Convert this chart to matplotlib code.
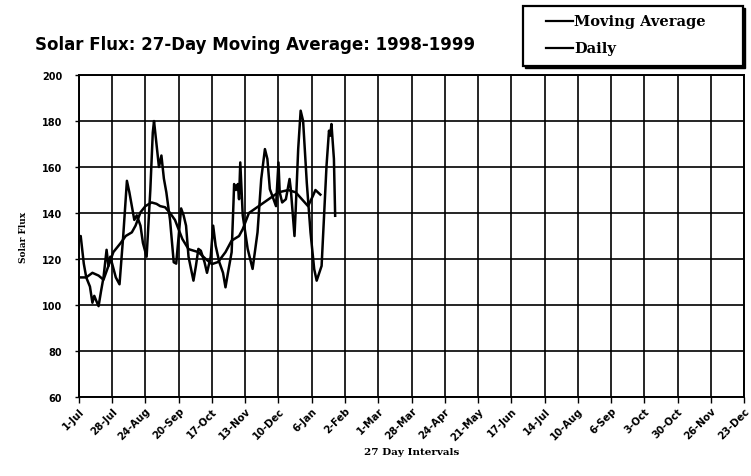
import matplotlib
matplotlib.use("Agg")
import matplotlib.pyplot as plt
from matplotlib.lines import Line2D
from matplotlib.patches import Rectangle

# ---- data ----
tick_labels = ["1-Jul", "28-Jul", "24-Aug", "20-Sep", "17-Oct", "13-Nov", "10-Dec",
               "6-Jan", "2-Feb", "1-Mar", "28-Mar", "24-Apr", "21-May", "17-Jun",
               "14-Jul", "10-Aug", "6-Sep", "3-Oct", "30-Oct", "26-Nov", "23-Dec"]
interval_days = 27

daily_day = [0, 1.5, 4, 6, 9, 11, 12.5, 14, 16, 18, 20, 22.5, 24, 25.5, 28, 30, 33,
             36, 39, 41, 45, 47, 50, 52, 55, 58, 60, 61, 63, 65, 67, 69, 71, 74, 77,
             79, 83, 85, 87, 89, 93, 95, 97, 99, 102, 104, 107, 109, 111, 114, 117,
             119, 121, 124, 125.5, 126, 127.5, 129, 130, 131, 133, 137, 141, 145, 148,
             151, 153, 155, 158, 160, 162, 163, 165, 168, 171, 172, 175, 176, 178, 180,
             182, 185, 188, 191, 193, 197, 201, 203, 204, 205, 207, 208]
daily_flux = [128, 130, 118, 112, 108, 101, 104, 102, 99.5, 106, 112, 124, 117, 121,
              116, 112, 109, 130, 154, 149, 137, 139, 134.5, 127, 121, 150, 175, 180,
              170, 160, 165, 155, 149, 137, 118.6, 118, 142, 139, 134.5, 121, 110.6, 117,
              124.4, 123.6, 118.6, 114, 121, 134.5, 125.8, 118.6, 114, 107.7, 114, 123,
              144.6, 152.6, 150, 152.6, 146, 162, 139, 124.4, 115.7, 131.6, 154.8, 167.8,
              163.5, 150.4, 146, 143, 162, 149, 144.6, 146, 154.8, 150.4, 130, 141.7,
              167.8, 184.5, 180, 153, 131.6, 115.6, 110.6, 117, 160.6, 175.8, 173.6,
              178.7, 163.5, 138.8]

ma_day = [0, 6, 11, 16, 20, 24, 28, 34, 38, 43, 46, 50, 54, 59, 63, 66, 70, 74, 78,
          84, 89, 97, 103, 108, 113, 119, 124, 130, 133, 138, 146, 154, 162, 170, 176,
          181, 186, 190, 192, 196]
ma_flux = [112, 112, 114, 112.8, 111, 117, 123, 127, 130, 131.6, 134.5, 140.3, 143,
           144.6, 144, 143, 142.5, 140, 137, 128.7, 124.3, 123, 120, 117.8, 118.7, 123,
           128, 130, 133, 140, 143, 146, 149, 150, 149, 146, 143, 147.5, 150, 148]

yticks = [60, 80, 100, 120, 140, 160, 180, 200]
series_names = ["Moving Average", "Daily"]

# ---- figure ----
W, H = 751, 477
fig = plt.figure(figsize=(W / 100, H / 100), dpi=100)
ax = fig.add_axes([0.105, 0.1656, 0.886, 0.675])

ax.plot(ma_day, ma_flux, color="black", lw=1.8, label=series_names[0], zorder=3)
ax.plot(daily_day, daily_flux, color="black", lw=1.8, label=series_names[1], zorder=3)

xt = [i * interval_days for i in range(len(tick_labels))]
ax.set_xticks(xt)
ax.set_xticklabels(tick_labels, rotation=45, ha="right", rotation_mode="anchor",
                   fontsize=7.3, fontweight="bold")
ax.set_xlim(0, xt[-1])
ax.set_yticks(yticks)
ax.set_yticklabels([str(v) for v in yticks], fontsize=7, fontweight="bold")
ax.set_ylim(60, 200)
ax.grid(True, color="black", lw=1.2)
ax.set_axisbelow(True)
for s in ax.spines.values():
    s.set_color("black")
    s.set_linewidth(1.4)
ax.tick_params(axis="x", length=4, width=1, color="black", pad=2)
ax.tick_params(axis="y", length=3, width=1, color="black", pad=9)

ax.set_xlabel("27 Day Intervals", family="DejaVu Serif", fontweight="bold",
              fontsize=7.5, labelpad=4)
ax.set_ylabel("Solar Flux", family="DejaVu Serif", fontweight="bold",
              fontsize=6.5, labelpad=10)

fig.text(0.047, 0.906, "Solar Flux: 27-Day Moving Average: 1998-1999",
         fontsize=12, fontweight="bold", va="center", ha="left")

# ---- legend box (drawn in figure pixels) ----
def fx(px):
    return px / W

def fy(py):
    return 1 - py / H

bx0, by0, bx1, by1 = 523, 7, 743, 67
fig.patches.append(Rectangle((fx(bx0 + 1.5), fy(by1 + 1.5)), fx(bx1 - bx0), (by1 - by0) / H,
                             transform=fig.transFigure, facecolor="black",
                             edgecolor="black", lw=1.0, zorder=1))
fig.patches.append(Rectangle((fx(bx0), fy(by1)), fx(bx1 - bx0), (by1 - by0) / H,
                             transform=fig.transFigure, facecolor="white",
                             edgecolor="black", lw=1.6, zorder=2))
for name, py in zip(series_names, [22, 49]):
    fig.lines.append(Line2D([fx(546), fx(573)], [fy(py), fy(py)], color="black",
                            lw=1.6, transform=fig.transFigure, zorder=3))
    fig.text(fx(574), fy(py), name, family="DejaVu Serif", fontweight="bold",
             fontsize=10.5, va="center", ha="left", zorder=4)

fig.savefig("out.png", dpi=100, facecolor="white")
